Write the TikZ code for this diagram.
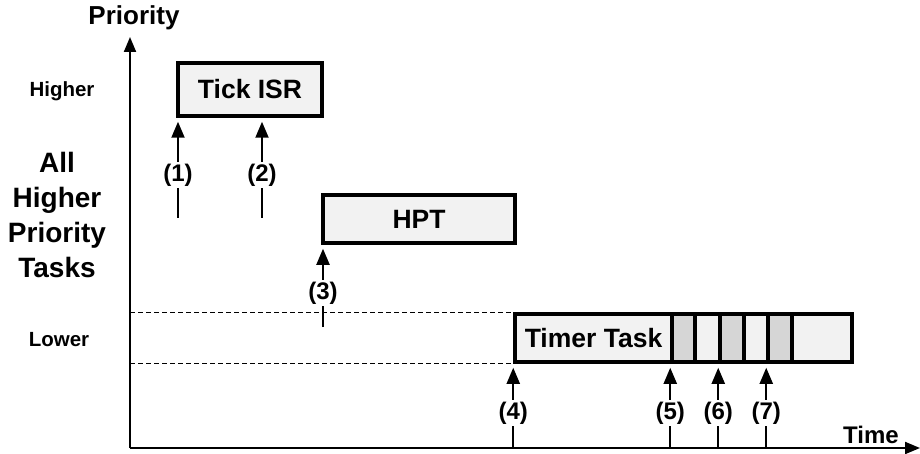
\documentclass[tikz,border=0pt]{standalone}
\usepackage{fontspec}
\setmainfont{Liberation Sans}
\usetikzlibrary{arrows.meta}
\definecolor{boxfill}{HTML}{F2F2F2}
\definecolor{segdark}{HTML}{D6D6D6}
\begin{document}
\begin{tikzpicture}[x=1pt,y=-1pt,
  font=\bfseries,
  axisline/.style={line width=2pt,-{Triangle[length=15pt,width=12pt]}},
  arr/.style={line width=2pt,-{Triangle[length=16pt,width=13pt]},shorten >=4pt},
  taskbox/.style={draw,line width=3.5pt,fill=boxfill,inner sep=0pt,anchor=center},
  seg/.style={draw,line width=3.5pt,inner sep=0pt,minimum height=48pt},
  lab/.style={fill=white,inner sep=1.5pt,font=\fontsize{24}{28}\selectfont\bfseries},
  dashline/.style={line width=1.4pt,dash pattern=on 5pt off 3pt},
  big/.style={font=\fontsize{26.5}{30}\selectfont\bfseries},
  side/.style={font=\fontsize{20.5}{24}\selectfont\bfseries}
]
\useasboundingbox (0,0) rectangle (920,454);
% axes
\coordinate (o) at (130,448);
\coordinate (ytop) at (130,37);
\coordinate (xend) at (920,448);
\draw[axisline] (o) -- (ytop);
\draw[axisline] (o) -- (xend);
\node[font=\fontsize{26}{30}\selectfont\bfseries] (prio) at (134,18) {Priority};
\node[font=\fontsize{24}{28}\selectfont\bfseries,anchor=base] (time) at (871,443) {Time};
% left labels
\node[side] (higher) at (62,91) {Higher};
\node[side] (lower) at (59,340) {Lower};
\node[font=\fontsize{28}{35}\selectfont\bfseries,align=center] (all) at (57,215) {All\\Higher\\Priority\\Tasks};
% boxes
\node[taskbox,big,minimum width=144pt,minimum height=53pt] (tick) at (250,89.5) {Tick ISR};
\node[taskbox,big,minimum width=192pt,minimum height=48pt] (hpt) at (419,219) {HPT};
\node[taskbox,big,minimum width=157pt,minimum height=48pt] (timer) at (593.5,338) {Timer Task};
\node[seg,fill=segdark,minimum width=23pt] (s1) at (683.5,338) {};
\node[seg,fill=boxfill,minimum width=25pt] (s2) at (707.5,338) {};
\node[seg,fill=segdark,minimum width=24pt] (s3) at (732,338) {};
\node[seg,fill=boxfill,minimum width=24pt] (s4) at (756,338) {};
\node[seg,fill=segdark,minimum width=24pt] (s5) at (780,338) {};
\node[seg,fill=boxfill,minimum width=60pt] (s6) at (822,338) {};
% dashed priority band
\draw[dashline] (o |- timer.north west) -- (timer.north west);
\draw[dashline] (o |- timer.south west) -- (timer.south west);
% arrows (1)-(2)
\coordinate (b1) at (178,218);
\coordinate (b2) at (262,218);
\draw[arr] (b1) -- (b1 |- tick.south);
\draw[arr] (b2) -- (b2 |- tick.south);
\node[lab] (l1) at (178,175) {(1)};
\node[lab] (l2) at (262,175) {(2)};
% arrow (3)
\coordinate (b3) at (323,327);
\draw[arr] (b3) -- (b3 |- hpt.south);
\node[lab] (l3) at (323,293) {(3)};
% arrows (4)-(7)
\coordinate (b4) at (o -| timer.south west);
\coordinate (b5) at (o -| s1.south west);
\coordinate (b6) at (o -| s3.south west);
\coordinate (b7) at (o -| s5.south west);
\draw[arr] (b4) -- (b4 |- timer.south);
\draw[arr] (b5) -- (b5 |- s1.south);
\draw[arr] (b6) -- (b6 |- s3.south);
\draw[arr] (b7) -- (b7 |- s5.south);
\node[lab] (l4) at (b4 |- 0,413) {(4)};
\node[lab] (l5) at (b5 |- 0,413) {(5)};
\node[lab] (l6) at (b6 |- 0,413) {(6)};
\node[lab] (l7) at (b7 |- 0,413) {(7)};
\end{tikzpicture}
\end{document}
